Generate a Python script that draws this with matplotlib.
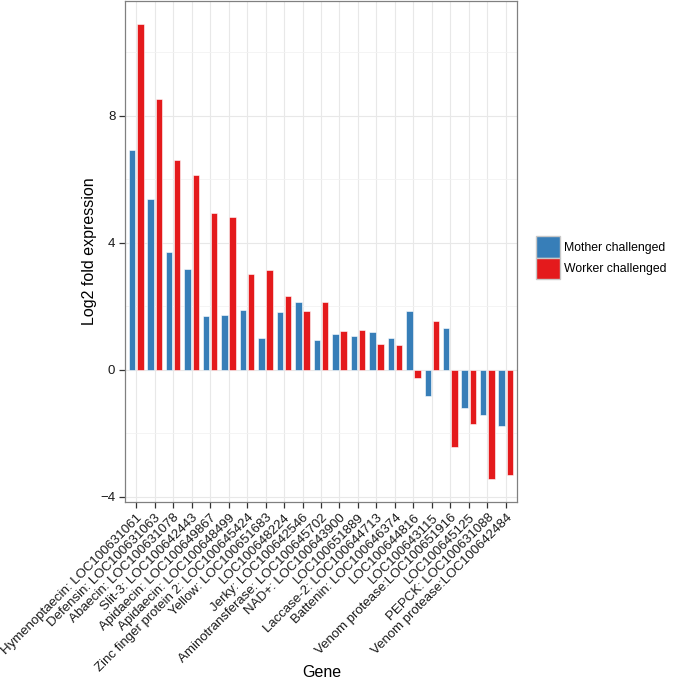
import numpy as np
import matplotlib
matplotlib.use('Agg')
import matplotlib.pyplot as plt
from matplotlib.patches import Patch

plt.rcParams['font.family'] = ['Liberation Sans', 'DejaVu Sans']

genes = [
    'Hymenoptaecin: LOC100631061', 'Defensin: LOC100631063', 'Abaecin: LOC100631078',
    'Slit-3: LOC100642443', 'Apidaecin: LOC100649867', 'Apidaecin: LOC100648499',
    'Zinc finger protein 2: LOC100645424', 'Yellow: LOC100651683', 'LOC100648224',
    'Jerky: LOC100642546', 'Aminotransferase: LOC100645702', 'NAD+: LOC100643900',
    'LOC100651889', 'Laccase-2: LOC100644713', 'Battenin: LOC100646374',
    'LOC100644816', 'LOC100643115', 'Venom protease:LOC100651916',
    'LOC100645125', 'PEPCK: LOC100631088', 'Venom protease:LOC100642484',
]
mother = [6.93, 5.39, 3.72, 3.16, 1.68, 1.73, 1.88, 1.01, 1.81, 2.12, 0.95,
          1.14, 1.06, 1.20, 1.01, 1.85, -0.84, 1.32, -1.20, -1.43, -1.79]
worker = [10.9, 8.52, 6.62, 6.14, 4.95, 4.82, 3.01, 3.13, 2.33, 1.86, 2.14,
          1.21, 1.26, 0.81, 0.78, -0.26, 1.54, -2.45, -1.72, -3.45, -3.32]

BLUE = '#377EB8'
RED = '#E41A1C'

fig = plt.figure(figsize=(6.74, 6.91), dpi=100)
ax = fig.add_axes([0.1855, 0.2735, 0.767 - 0.1855, 0.9986 - 0.2735])

x = np.arange(1, len(genes) + 1)
w = 0.35
ax.bar(x - 0.225, mother, width=w, color=BLUE, edgecolor='white', linewidth=0.4, zorder=3)
ax.bar(x + 0.225, worker, width=w, color=RED, edgecolor='white', linewidth=0.4, zorder=3)

ax.set_xlim(0.4, len(genes) + 0.6)
ax.set_ylim(-4.17, 11.62)
ax.set_yticks([-4, 0, 4, 8])
ax.set_yticks([-2, 2, 6, 10], minor=True)
ax.set_xticks(x)
ax.set_xticklabels(genes, rotation=45, ha='right', rotation_mode='anchor', fontsize=9.5)
ax.tick_params(axis='y', labelsize=9.5)
ax.tick_params(which='major', length=4, width=0.9, color='#333333', labelcolor='#1a1a1a', pad=3)
ax.tick_params(which='minor', length=0)

ax.grid(True, which='major', color='#e8e8e8', linewidth=0.8, zorder=0)
ax.grid(True, which='minor', axis='y', color='#f2f2f2', linewidth=0.6, zorder=0)
ax.set_axisbelow(True)
for s in ax.spines.values():
    s.set_color('#808080')
    s.set_linewidth(0.9)

ax.set_ylabel('Log2 fold expression', fontsize=11.5, labelpad=2)
fig.text(0.477, 0.016, 'Gene', fontsize=11.5, ha='center', va='bottom')

handles = [Patch(facecolor=BLUE, edgecolor='#c8c8c8', label='Mother challenged'),
           Patch(facecolor=RED, edgecolor='#c8c8c8', label='Worker challenged')]
fig.legend(handles=handles, loc='center left', bbox_to_anchor=(0.795, 0.627),
           frameon=False, fontsize=8.8, handlelength=2.0, handleheight=2.3,
           handletextpad=0.3, labelspacing=0.0, borderaxespad=0, borderpad=0)

fig.savefig('out.png', dpi=100)
